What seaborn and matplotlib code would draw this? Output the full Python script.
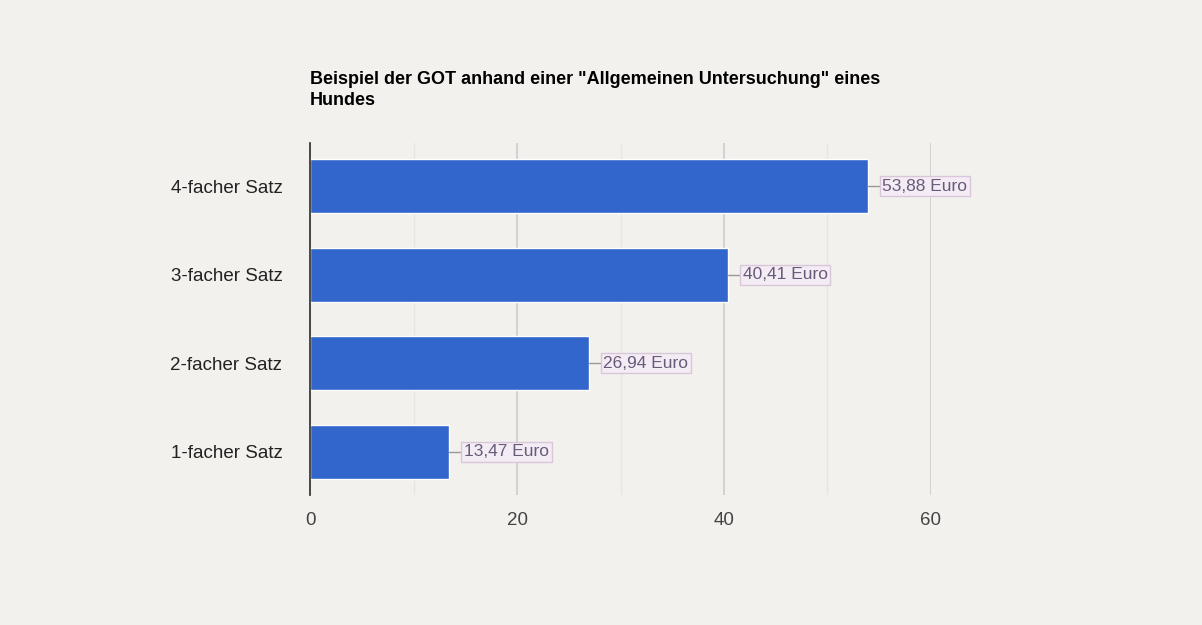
import matplotlib
matplotlib.use("Agg")
import matplotlib.pyplot as plt
import seaborn as sns
import pandas as pd

categories = ["4-facher Satz", "3-facher Satz", "2-facher Satz", "1-facher Satz"]
values = [53.88, 40.41, 26.94, 13.47]
labels = ["53,88 Euro", "40,41 Euro", "26,94 Euro", "13,47 Euro"]
title = 'Beispiel der GOT anhand einer "Allgemeinen Untersuchung" eines\nHundes'

sns.set_theme(style="white")
plt.rcParams['font.family'] = ['Liberation Sans', 'DejaVu Sans']
bg = "#f3f1ed"
fig = plt.figure(figsize=(12.02, 6.25), dpi=100, facecolor=bg)
ax = fig.add_axes([0.258, 0.208, 0.5165, 0.563], facecolor=bg)
df = pd.DataFrame({"cat": categories, "val": values})
sns.barplot(data=df, x="val", y="cat", color="#3366cc", saturation=1, width=0.61, ax=ax, zorder=3)
ax.set_xlim(0, 60)
ax.set_xticks([0, 20, 40, 60])
ax.set_xticks([10, 30, 50], minor=True)
ax.grid(axis="x", which="major", color="#cccccc", lw=1.2, zorder=0)
ax.grid(axis="x", which="minor", color="#e8e6e2", lw=1, zorder=0)
for s in ["top", "right", "bottom"]:
    ax.spines[s].set_visible(False)
ax.spines["left"].set_color("#333333")
ax.spines["left"].set_zorder(4)
ax.set_xlabel(""); ax.set_ylabel("")
ax.tick_params(axis="both", length=0, labelsize=13.5, labelcolor="#444444", pad=12)
ax.tick_params(axis="y", labelcolor="#222222", pad=20)
for i, (v, l) in enumerate(zip(values, labels)):
    ax.plot([v, v + 1.3], [i, i], color="#999999", lw=1, zorder=3, clip_on=False)
    ax.text(v + 1.4, i, l, va="center", ha="left", fontsize=12.5, color="#6a5a7a", zorder=5,
            bbox=dict(boxstyle="square,pad=0.15", fc="#f4ecf4", ec="#d9c6d9", lw=1), clip_on=False)
fig.text(0.258, 0.825, title, fontsize=13, fontweight="bold", color="black", ha="left", va="bottom", linespacing=1.3)
fig.savefig("out.png", dpi=100, facecolor=bg)
